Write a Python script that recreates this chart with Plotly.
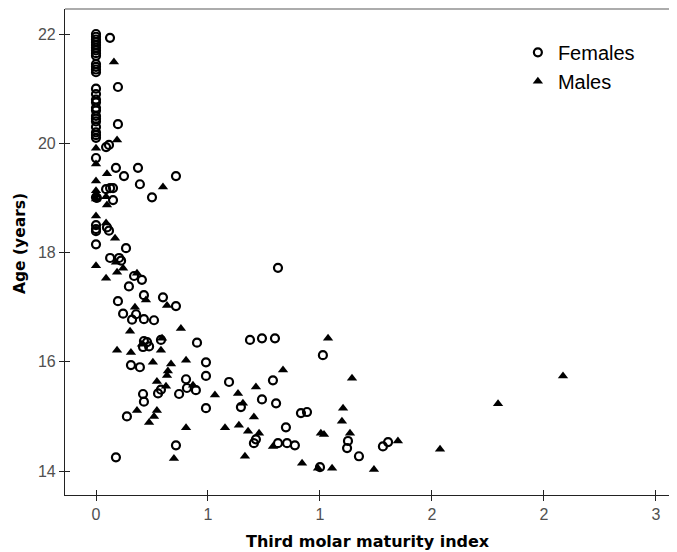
import plotly.graph_objects as go

# ---- Data ----
female_index = [
    0, 0, 0, 0, 0, 0, 0, 0, 0, 0, 0, 0, 0,
    0, 0, 0, 0, 0, 0, 0, 0, 0, 0, 0, 0, 0,
    0, 0, 0, 0, 0, 0,
    0.0625, 0.098, 0.098, 0.045, 0.058, 0.089, 0.125, 0.1875, 0.196, 0.25, 0.357,
    0.045, 0.063, 0.076, 0.076, 0.004, 0.049, 0.058, 0.134,
    0.063, 0.103, 0.112, 0.8125, 0.170, 0.205, 0.147, 0.098, 0.214, 0.299, 0.357,
    0.121, 0.179, 0.161, 0.214, 0.259,
    0.214, 0.228, 0.210, 0.237, 0.290, 0.451, 0.6875, 0.741, 0.799, 1.013,
    0.156, 0.196, 0.491, 0.491, 0.402, 0.594, 0.790, 0.290, 0.277, 0.406, 0.446,
    0.371, 0.210, 0.214, 0.741, 0.804, 0.138, 0.491, 0.647, 0.915, 0.942,
    0.714, 0.705, 0.848, 0.8125, 0.853, 0.888, 0.357, 0.089, 1.0,
    1.121, 1.125, 1.174, 1.281, 1.304,
]
female_age = [
    22.0, 21.95, 21.9, 21.85, 21.8, 21.75, 21.7, 21.65, 21.6, 21.45, 21.4, 21.35, 21.3,
    21.0, 20.9, 20.8, 20.75, 20.65, 20.6, 20.5, 20.45, 20.4, 20.3, 20.2, 20.15, 20.1,
    19.73, 19.01, 18.5, 18.43, 18.39, 18.15,
    21.93, 21.03, 20.35, 19.93, 19.97, 19.55, 19.40, 19.55, 19.25, 19.01, 19.40,
    19.16, 19.18, 19.18, 18.96, 19.0, 18.46, 18.40, 18.08,
    17.90, 17.90, 17.85, 17.72, 17.57, 17.50, 17.38, 17.11, 17.22, 17.18, 17.02,
    16.88, 16.87, 16.77, 16.78, 16.76,
    16.38, 16.36, 16.27, 16.28, 16.40, 16.35, 16.40, 16.43, 16.43, 16.12,
    15.94, 15.90, 15.99, 15.74, 15.68, 15.63, 15.66, 15.49, 15.42, 15.52, 15.48,
    15.41, 15.41, 15.27, 15.31, 15.24, 15.00, 15.15, 15.17, 15.06, 15.08,
    14.58, 14.51, 14.80, 14.51, 14.51, 14.47, 14.47, 14.25, 14.07,
    14.42, 14.55, 14.27, 14.45, 14.53,
]

male_index = [
    0, 0, 0, 0, 0, 0, 0, 0,
    0.080, 0.094, 0.049, 0.299, 0.045, 0.049, 0.045, 0.085, 0.089, 0.121,
    0.045, 0.094, 0.183, 0.223, 0.317, 0.174, 0.152, 0.379, 0.295, 0.205,
    0.094, 0.156, 0.290, 0.254, 0.335, 0.402, 0.321, 0.317, 0.835, 0.272,
    0.3125, 0.433, 0.531, 0.634, 0.714, 0.183, 0.272, 0.259, 0.237, 0.656,
    0.705, 0.402, 0.576, 0.638, 0.679, 0.728, 0.790, 0.348, 0.665, 0.920,
    0.991, 1.054, 1.004, 1.018, 1.103, 1.098, 1.134, 1.036, 1.143, 1.348,
    1.536, 1.241, 1.795, 2.085,
]
male_age = [
    19.91, 19.62, 19.31, 19.13, 19.05, 18.98, 18.67, 17.76,
    21.49, 20.06, 19.44, 19.20, 19.02, 18.87, 18.54, 18.26, 17.82, 17.71,
    17.53, 17.64, 17.62, 17.13, 17.03, 17.00, 16.56, 16.61, 16.43, 16.32,
    16.21, 16.17, 16.21, 15.99, 15.96, 16.03, 15.83, 15.75, 15.85, 15.64,
    15.55, 15.57, 15.39, 15.42, 15.54, 15.11, 15.11, 15.00, 14.89, 15.24,
    14.99, 14.79, 14.79, 14.84, 14.73, 14.69, 14.45, 14.23, 14.27, 14.14,
    14.05, 14.05, 14.69, 14.67, 15.15, 14.91, 14.69, 16.43, 15.70, 14.55,
    14.40, 14.03, 15.23, 15.74,
]

x_tickvals = [0, 0.5, 1, 1.5, 2, 2.5]
x_ticktext = ["0", "1", "1", "2", "2", "3"]
y_tickvals = [14, 16, 18, 20, 22]
y_ticktext = ["14", "16", "18", "20", "22"]

x_range = [-0.1384, 2.594]
y_range = [13.561, 22.458]

FONT = "Liberation Sans, Arial, sans-serif"
TITLE_FONT = "DejaVu Sans, Verdana, sans-serif"

fig = go.Figure()
fig.add_trace(go.Scatter(
    x=female_index, y=female_age, mode="markers", name="Females",
    marker=dict(symbol="circle-open", size=8, color="black",
                line=dict(width=2.2, color="black")),
))
fig.add_trace(go.Scatter(
    x=male_index, y=male_age, mode="markers", name="Males",
    marker=dict(symbol="triangle-up", size=9, color="black",
                line=dict(width=0)),
))

axis_common = dict(showgrid=False, zeroline=False, showline=True, automargin=False,
                   linecolor="#222222", linewidth=1.2,
                   ticks="outside", ticklen=5, tickwidth=1.2, tickcolor="#222222",
                   tickfont=dict(family=FONT, size=16, color="#505050"))

# page body has an 8px margin; margins below compensate for it
fig.update_layout(
    width=677, height=552,
    margin=dict(l=57, r=8, t=1, b=65, autoexpand=False),
    paper_bgcolor="white", plot_bgcolor="white",
    showlegend=True,
    legend=dict(x=0.74, y=0.951, xanchor="left", yanchor="top",
                font=dict(family=FONT, size=20, color="black"),
                bgcolor="rgba(0,0,0,0)", itemsizing="trace",
                tracegroupgap=0),
    xaxis=dict(range=x_range, tickvals=x_tickvals, ticktext=x_ticktext,
               **axis_common),
    yaxis=dict(range=y_range, tickvals=y_tickvals, ticktext=y_ticktext,
               **axis_common),
    # inside tick halves so ticks cross the axis line
    xaxis2=dict(overlaying="x", matches="x", range=x_range, tickvals=x_tickvals,
                showticklabels=False, ticks="inside", ticklen=5, tickwidth=1.2,
                tickcolor="#222222", showgrid=False, zeroline=False, showline=False,
                side="bottom", anchor="y", automargin=False),
    yaxis2=dict(overlaying="y", matches="y", range=y_range, tickvals=y_tickvals,
                showticklabels=False, ticks="inside", ticklen=5, tickwidth=1.2,
                tickcolor="#222222", showgrid=False, zeroline=False, showline=False,
                side="left", anchor="x", automargin=False),
    shapes=[dict(type="line", xref="paper", yref="paper", x0=0, x1=1.02, y0=1, y1=1,
                 line=dict(color="#909090", width=1.5))],
    annotations=[
        dict(text="<b>Third molar maturity index</b>", xref="paper", yref="paper",
             x=(368 - 65) / 612, y=-(540 - 494) / 486, xanchor="center", yanchor="middle",
             showarrow=False, font=dict(family=TITLE_FONT, size=16, color="black")),
        dict(text="<b>Age (years)</b>", xref="paper", yref="paper",
             x=-(65 - 20) / 612, y=1 - (243 - 8) / 486, xanchor="center", yanchor="middle",
             textangle=-90, showarrow=False,
             font=dict(family=TITLE_FONT, size=15.5, color="black")),
    ],
)
# dummy invisible trace to activate secondary axes
fig.add_trace(go.Scatter(x=[None], y=[None], xaxis="x2", yaxis="y2",
                         showlegend=False, hoverinfo="skip"))

fig.write_html("out.html")
